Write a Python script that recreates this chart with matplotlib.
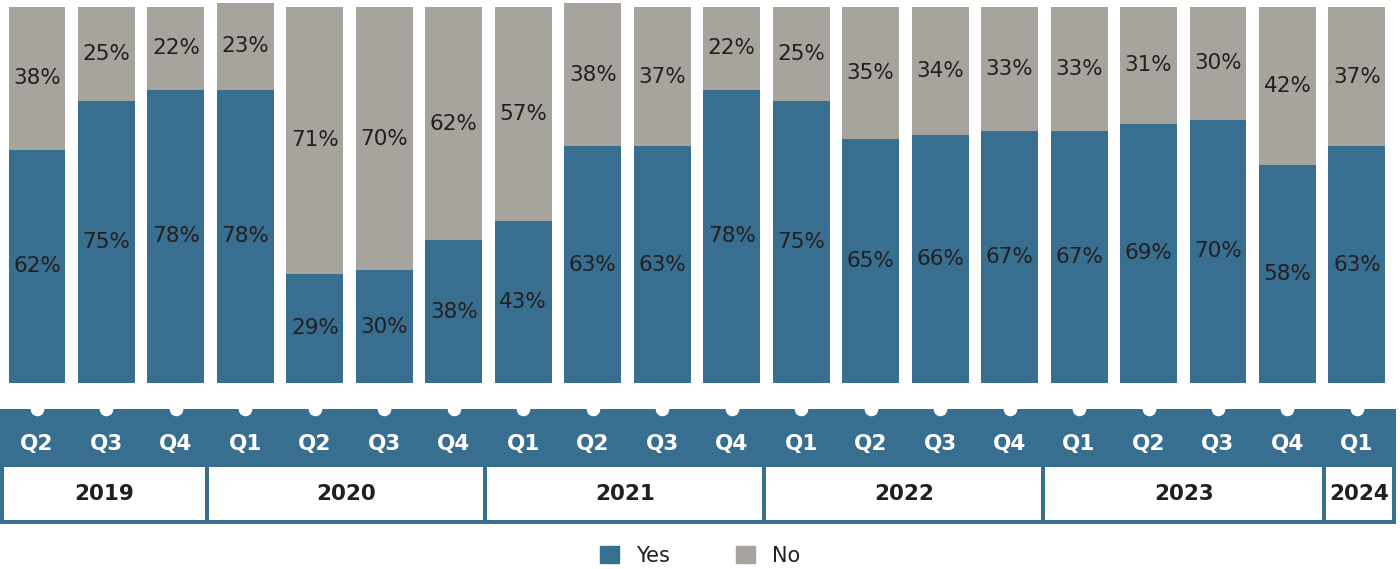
import matplotlib
matplotlib.use("Agg")
import matplotlib.pyplot as plt
from matplotlib.patches import Rectangle, Patch

quarters = ["Q2", "Q3", "Q4",
            "Q1", "Q2", "Q3", "Q4",
            "Q1", "Q2", "Q3", "Q4",
            "Q1", "Q2", "Q3", "Q4",
            "Q1", "Q2", "Q3", "Q4",
            "Q1"]
years = ["2019", "2020", "2021", "2022", "2023", "2024"]
year_counts = [3, 4, 4, 4, 4, 1]
yes = [62, 75, 78, 78, 29, 30, 38, 43, 63, 63, 78, 75, 65, 66, 67, 67, 69, 70, 58, 63]
no = [38, 25, 22, 23, 71, 70, 62, 57, 38, 37, 22, 25, 35, 34, 33, 33, 31, 30, 42, 37]

BLUE = "#386E90"
GREY = "#A7A39D"
TEXT = "#231F20"

W, H = 1400, 569
fig = plt.figure(figsize=(W / 100, H / 100), dpi=100)
plt.rcParams["font.family"] = ["DejaVu Sans"]

x = list(range(len(quarters)))
step = 69.47
x0 = -37 / step
x1 = (W - 37) / step

# stacked bars
ax = fig.add_axes([0, (H - 383) / H, 1, 376 / H])
ax.bar(x, yes, width=0.82, color=BLUE, linewidth=0)
ax.bar(x, no, bottom=yes, width=0.82, color=GREY, linewidth=0, clip_on=False)
for i in x:
    ax.text(i, yes[i] / 2, f"{yes[i]}%", ha="center", va="center",
            fontsize=15.5, color=TEXT)
    ax.text(i, yes[i] + no[i] / 2, f"{no[i]}%", ha="center", va="center",
            fontsize=15.5, color=TEXT)
ax.set_xlim(x0, x1)
ax.set_ylim(0, 100)
ax.axis("off")

# quarter / year band
bx = fig.add_axes([0, (H - 526) / H, 1, 121 / H])
bx.set_xlim(x0, x1)
bx.set_ylim(526, 405)
bx.axis("off")
band_right = (1396 - 37) / step
bx.add_patch(Rectangle((x0, 409), band_right - x0, 115, color=BLUE, lw=0))
bx.scatter(x, [409] * len(x), s=95, color="white", zorder=3, linewidths=0)
for i, q in enumerate(quarters):
    bx.text(i, 444, q, ha="center", va="center", fontsize=15.5,
            fontweight="bold", color="white")

# year boxes, separated by thin blue gaps between the year groups
gap = 0.029
edges = [0]
for n in year_counts:
    edges.append(edges[-1] + n)
shifts = [0, -0.05, -0.05, -0.03, -0.015, 0.03, 0]
for k, yr in enumerate(years):
    if k == 0:
        left = (4 - 37) / step
    else:
        left = edges[k] - 0.5 + shifts[k] + gap
    if k == len(years) - 1:
        right = (1392 - 37) / step
    else:
        right = edges[k + 1] - 0.5 + shifts[k + 1] - gap
    bx.add_patch(Rectangle((left, 467), right - left, 53, color="white", lw=0))
    bx.text((left + right) / 2, 494, yr, ha="center", va="center",
            fontsize=15.5, fontweight="bold", color=TEXT)

handles = [Patch(color=BLUE, label="Yes"), Patch(color=GREY, label="No")]
fig.legend(handles=handles, loc="center", bbox_to_anchor=(0.5, 1 - 556 / H),
           ncol=2, frameon=False, fontsize=15, handlelength=0.9,
           handleheight=0.9, columnspacing=3.2, labelcolor=TEXT)

fig.savefig("out.png", dpi=100)
